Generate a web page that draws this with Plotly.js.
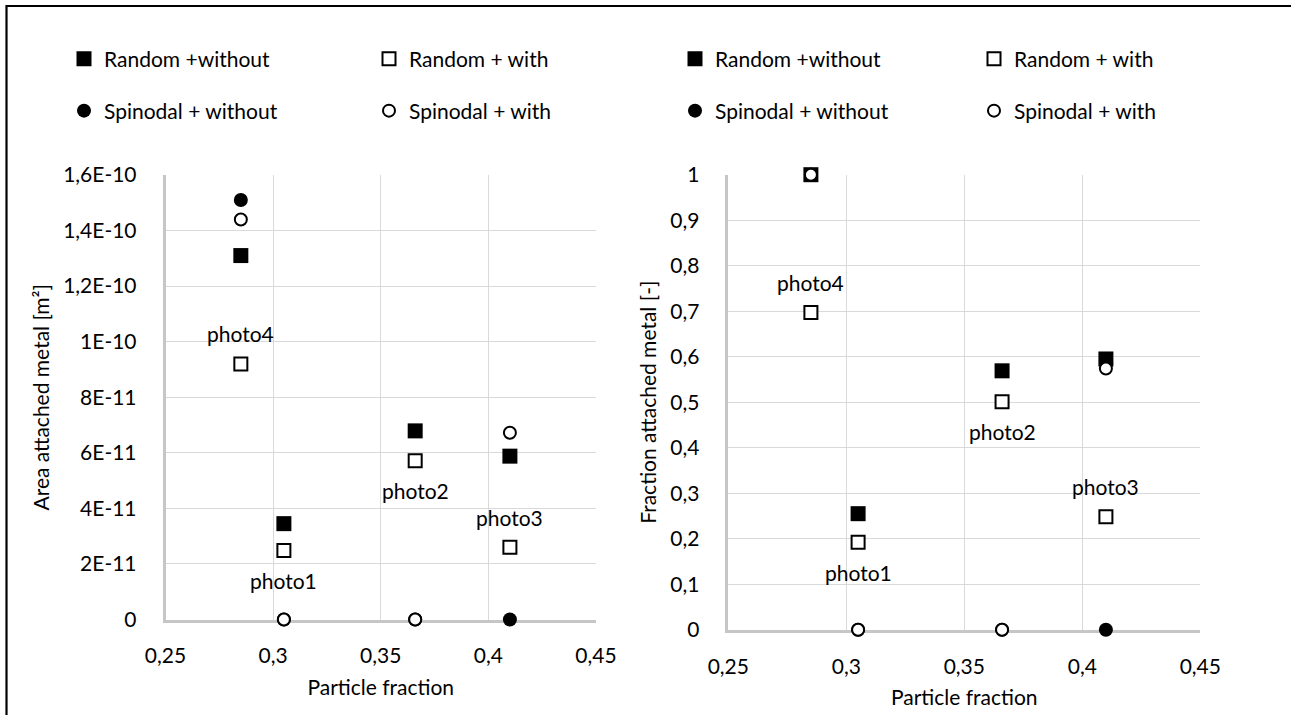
<!DOCTYPE html>
<html><head><meta charset="utf-8">
<script src="https://cdn.plot.ly/plotly-3.0.1.min.js"></script>
<style>html,body{margin:0;padding:0;background:#fff;overflow:hidden}#chart{width:1291px;height:715px}</style>
</head><body><div id="chart"></div>
<script>
// ---- data ----
const particleFraction = [0.285, 0.305, 0.366, 0.41];
const seriesNames = ['Random +without', 'Random + with', 'Spinodal + without', 'Spinodal + with'];

const areaRandomWithout   = [1.31e-10, 3.45e-11, 6.79e-11, 5.88e-11];
const areaRandomWith      = [9.2e-11, 2.48e-11, 5.71e-11, 2.6e-11];
const areaSpinodalWithout = [1.51e-10, 0, 0, 0];
const areaSpinodalWith    = [1.44e-10, 0, 0, 6.72e-11];

const fracRandomWithout   = [1, 0.255, 0.569, 0.595];
const fracRandomWith      = [0.697, 0.192, 0.501, 0.248];
const fracSpinodalWithout = [1, 0, 0, 0];
const fracSpinodalWith    = [1, 0, 0, 0.574];

const photoLabels = ['photo4', 'photo1', 'photo2', 'photo3'];
const photoSide   = [1, -1, -1, 1];   // above (+1) or below (-1) the "Random + with" point

const xTickVals = [0.25, 0.3, 0.35, 0.4, 0.45];
const xTickText = ['0,25', '0,3', '0,35', '0,4', '0,45'];
const areaTickVals = [0, 2e-11, 4e-11, 6e-11, 8e-11, 1e-10, 1.2e-10, 1.4e-10, 1.6e-10];
const areaTickText = ['0', '2E-11', '4E-11', '6E-11', '8E-11', '1E-10', '1,2E-10', '1,4E-10', '1,6E-10'];
const fracTickVals = [0, 0.1, 0.2, 0.3, 0.4, 0.5, 0.6, 0.7, 0.8, 0.9, 1];
const fracTickText = ['0', '0,1', '0,2', '0,3', '0,4', '0,5', '0,6', '0,7', '0,8', '0,9', '1'];

// ---- styles ----
const FONT = 'Lato, "Open Sans", sans-serif';
const FS = 21;
const W = 1291, H = 715;
const markerStyles = [
  {symbol: 'square', size: 15, color: '#000', line: {width: 0, color: '#000'}},
  {symbol: 'square', size: 13, color: '#fff', line: {width: 2, color: '#000'}},
  {symbol: 'circle', size: 14, color: '#000', line: {width: 0, color: '#000'}},
  {symbol: 'circle', size: 12, color: '#fff', line: {width: 2, color: '#000'}}
];

const leftSeries = [areaRandomWithout, areaRandomWith, areaSpinodalWithout, areaSpinodalWith];
const rightSeries = [fracRandomWithout, fracRandomWith, fracSpinodalWithout, fracSpinodalWith];
const leftLegends = ['legend', 'legend', 'legend2', 'legend2'];
const rightLegends = ['legend3', 'legend3', 'legend4', 'legend4'];

const traces = [];
leftSeries.forEach((ys, i) => traces.push({
  type: 'scatter', mode: 'markers', x: particleFraction, y: ys, name: seriesNames[i], cliponaxis: false,
  xaxis: 'x', yaxis: 'y', legend: leftLegends[i], marker: markerStyles[i], hoverinfo: 'x+y+name'
}));
rightSeries.forEach((ys, i) => traces.push({
  type: 'scatter', mode: 'markers', x: particleFraction, y: ys, name: seriesNames[i], cliponaxis: false,
  xaxis: 'x2', yaxis: 'y2', legend: rightLegends[i], marker: markerStyles[i], hoverinfo: 'x+y+name'
}));

const annotations = [];
photoLabels.forEach((t, i) => {
  annotations.push({xref: 'x', yref: 'y', x: particleFraction[i], y: areaRandomWith[i], text: t,
    showarrow: false, yshift: 30 * photoSide[i], font: {family: FONT, size: FS, color: '#000'}});
  annotations.push({xref: 'x2', yref: 'y2', x: particleFraction[i], y: fracRandomWith[i], text: t,
    showarrow: false, yshift: 30 * photoSide[i], font: {family: FONT, size: FS, color: '#000'}});
});

function xAxis(domain, anchor) {
  return {
    domain: domain, anchor: anchor, range: [0.25, 0.45], tickmode: 'array', tickvals: xTickVals, ticktext: xTickText,
    showgrid: true, gridcolor: '#d9d9d9', gridwidth: 1.3, zeroline: false, layer: 'below traces',
    showline: true, linecolor: '#c6c6c6', linewidth: 2.5, ticks: '', ticklabelstandoff: 16,
    tickfont: {family: FONT, size: FS, color: '#000'},
    title: {text: 'Particle fraction', font: {family: FONT, size: FS, color: '#000'}, standoff: 14},
    fixedrange: true
  };
}
function yAxis(domain, anchor, range, vals, text, title) {
  return {
    domain: domain, anchor: anchor, range: range, tickmode: 'array', tickvals: vals, ticktext: text,
    showgrid: true, gridcolor: '#d9d9d9', gridwidth: 1.3, zeroline: false, layer: 'below traces',
    showline: true, linecolor: '#c6c6c6', linewidth: 2.5, ticks: '', ticklabelstandoff: 22,
    tickfont: {family: FONT, size: FS, color: '#000'},
    title: {text: title, font: {family: FONT, size: FS, color: '#000'}, standoff: 8},
    fixedrange: true
  };
}

function legendAt(px, py, entry) {
  return {
    orientation: 'h', x: px / W, y: 1 - py / H, xanchor: 'left', yanchor: 'middle',
    xref: 'paper', yref: 'paper', entrywidth: entry, entrywidthmode: 'pixels',
    bgcolor: 'rgba(0,0,0,0)', borderwidth: 0, font: {family: FONT, size: FS, color: '#000'},
    itemclick: false, itemdoubleclick: false
  };
}

const layout = {
  width: W, height: H, margin: {l: 0, r: 0, t: 0, b: 0}, paper_bgcolor: '#fff', plot_bgcolor: '#fff',
  showlegend: true,
  xaxis: xAxis([165.5 / W, 596 / W], 'y'),
  yaxis: yAxis([1 - 619.5 / H, 1 - 175 / H], 'x', [0, 1.6e-10], areaTickVals, areaTickText, 'Area attached metal [m²]'),
  xaxis2: xAxis([728.3 / W, 1200.3 / W], 'y2'),
  yaxis2: yAxis([1 - 629.7 / H, 1 - 174.7 / H], 'x2', [0, 1], fracTickVals, fracTickText, 'Fraction attached metal [-]'),
  legend: legendAt(64, 59, 260),
  legend2: legendAt(64, 111, 260),
  legend3: legendAt(675, 59, 254),
  legend4: legendAt(675, 111, 254),
  annotations: annotations,
  shapes: [{type: 'rect', xref: 'paper', yref: 'paper', x0: 6.5 / W, x1: 1.05, y0: -0.05, y1: 1 - 6 / H,
            line: {color: '#000', width: 2.2}, fillcolor: 'rgba(0,0,0,0)', layer: 'above'}],
  hovermode: 'closest'
};

Plotly.newPlot('chart', traces, layout, {displayModeBar: false, staticPlot: false, responsive: false});
</script>
</body></html>
